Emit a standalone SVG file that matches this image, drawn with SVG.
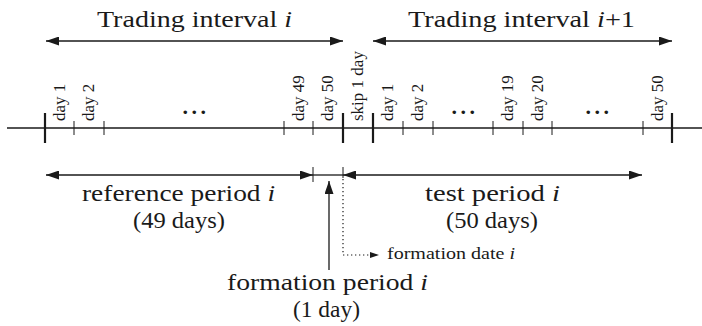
<svg xmlns="http://www.w3.org/2000/svg" width="702" height="326" viewBox="0 0 702 326" font-family="'Liberation Serif', 'DejaVu Serif', serif">
<style>
text{font-family:'Liberation Serif','DejaVu Serif',serif;fill:#1a1a1a}
.big{font-size:24px}
.lab{font-size:17px}
.small{font-size:17px}
.dots{font-size:22px;letter-spacing:3.5px;font-weight:bold}
.it{font-style:italic}
.ln{stroke:#1a1a1a;stroke-width:1.3;fill:none}
.axis{stroke:#1a1a1a;stroke-width:1.3}
.bt{stroke:#1a1a1a;stroke-width:2.2}
.st{stroke:#1a1a1a;stroke-width:1}
.dot{stroke:#1a1a1a;stroke-width:1.2;stroke-dasharray:1.3 2.7;fill:none}
</style>
<defs>
<marker id="ah" viewBox="0 0 13 9" refX="13" refY="4.5" markerWidth="13" markerHeight="9" markerUnits="userSpaceOnUse" orient="auto-start-reverse">
<path d="M0,0 L13,4.5 L0,9 Z" fill="#1a1a1a"/>
</marker>
</defs>

<g id="axis">
<line class="axis" x1="7" y1="128" x2="702" y2="128"/>
<line class="bt" x1="45" y1="113" x2="45" y2="143"/>
<line class="bt" x1="343" y1="113" x2="343" y2="143"/>
<line class="bt" x1="373" y1="113" x2="373" y2="143"/>
<line class="bt" x1="672" y1="113" x2="672" y2="143"/>
<line class="st" x1="74" y1="121" x2="74" y2="135"/>
<line class="st" x1="104" y1="121" x2="104" y2="135"/>
<line class="st" x1="284" y1="121" x2="284" y2="135"/>
<line class="st" x1="313" y1="121" x2="313" y2="135"/>
<line class="st" x1="403" y1="121" x2="403" y2="135"/>
<line class="st" x1="433" y1="121" x2="433" y2="135"/>
<line class="st" x1="493" y1="121" x2="493" y2="135"/>
<line class="st" x1="523" y1="121" x2="523" y2="135"/>
<line class="st" x1="552" y1="121" x2="552" y2="135"/>
<line class="st" x1="643" y1="121" x2="643" y2="135"/>
</g>

<g id="day-labels">
<text class="lab" transform="translate(64.5,121) rotate(-90)">day 1</text>
<text class="lab" transform="translate(94,121) rotate(-90)">day 2</text>
<text class="lab" transform="translate(303.5,121) rotate(-90)">day 49</text>
<text class="lab" transform="translate(333,121) rotate(-90)">day 50</text>
<text class="lab" transform="translate(363,121) rotate(-90)">skip 1 day</text>
<text class="lab" transform="translate(393,121) rotate(-90)">day 1</text>
<text class="lab" transform="translate(423,121) rotate(-90)">day 2</text>
<text class="lab" transform="translate(513,121) rotate(-90)">day 19</text>
<text class="lab" transform="translate(542.5,121) rotate(-90)">day 20</text>
<text class="lab" transform="translate(662.5,121) rotate(-90)">day 50</text>
<text class="dots" x="182.5" y="114">...</text>
<text class="dots" x="451.5" y="114">...</text>
<text class="dots" x="585.5" y="114">...</text>
</g>

<g id="trading-interval-i">
<line class="ln" x1="46" y1="41" x2="343" y2="41" marker-start="url(#ah)" marker-end="url(#ah)"/>
<text class="big" x="97" y="27" textLength="195" lengthAdjust="spacingAndGlyphs">Trading interval <tspan class="it">i</tspan></text>
</g>

<g id="trading-interval-i1">
<line class="ln" x1="373" y1="41" x2="672" y2="41" marker-start="url(#ah)" marker-end="url(#ah)"/>
<text class="big" x="408" y="27" textLength="227" lengthAdjust="spacingAndGlyphs">Trading interval <tspan class="it">i</tspan>+1</text>
</g>

<g id="connectors">
<line class="ln" x1="46" y1="175" x2="313" y2="175" marker-start="url(#ah)" marker-end="url(#ah)"/>
<line class="ln" x1="313" y1="175" x2="343" y2="175"/>
<line class="ln" x1="343" y1="175" x2="642" y2="175" marker-start="url(#ah)" marker-end="url(#ah)"/>
<line class="st" x1="313" y1="167" x2="313" y2="182"/>
<line class="st" x1="343" y1="167" x2="343" y2="178"/>
<line class="ln" x1="329" y1="270" x2="329" y2="181" marker-end="url(#ah)"/>
<polyline class="dot" points="343,179 343,255 379,255"/>
<path d="M370,252 L379,255 L370,258 Z" fill="#1a1a1a"/>
</g>

<g id="reference-period">
<text class="big" x="82" y="201" textLength="193" lengthAdjust="spacingAndGlyphs">reference period <tspan class="it">i</tspan></text>
<text class="big" x="133" y="228" textLength="92" lengthAdjust="spacingAndGlyphs">(49 days)</text>
</g>

<g id="test-period">
<text class="big" x="425" y="201" textLength="135" lengthAdjust="spacingAndGlyphs">test period <tspan class="it">i</tspan></text>
<text class="big" x="446" y="228" textLength="92" lengthAdjust="spacingAndGlyphs">(50 days)</text>
</g>

<g id="formation-period">
<text class="big" x="227" y="290" textLength="201" lengthAdjust="spacingAndGlyphs">formation period <tspan class="it">i</tspan></text>
<text class="big" x="293" y="317" textLength="67" lengthAdjust="spacingAndGlyphs">(1 day)</text>
</g>

<g id="formation-date">
<text class="small" x="387" y="259" textLength="128" lengthAdjust="spacingAndGlyphs">formation date <tspan class="it">i</tspan></text>
</g>
</svg>
